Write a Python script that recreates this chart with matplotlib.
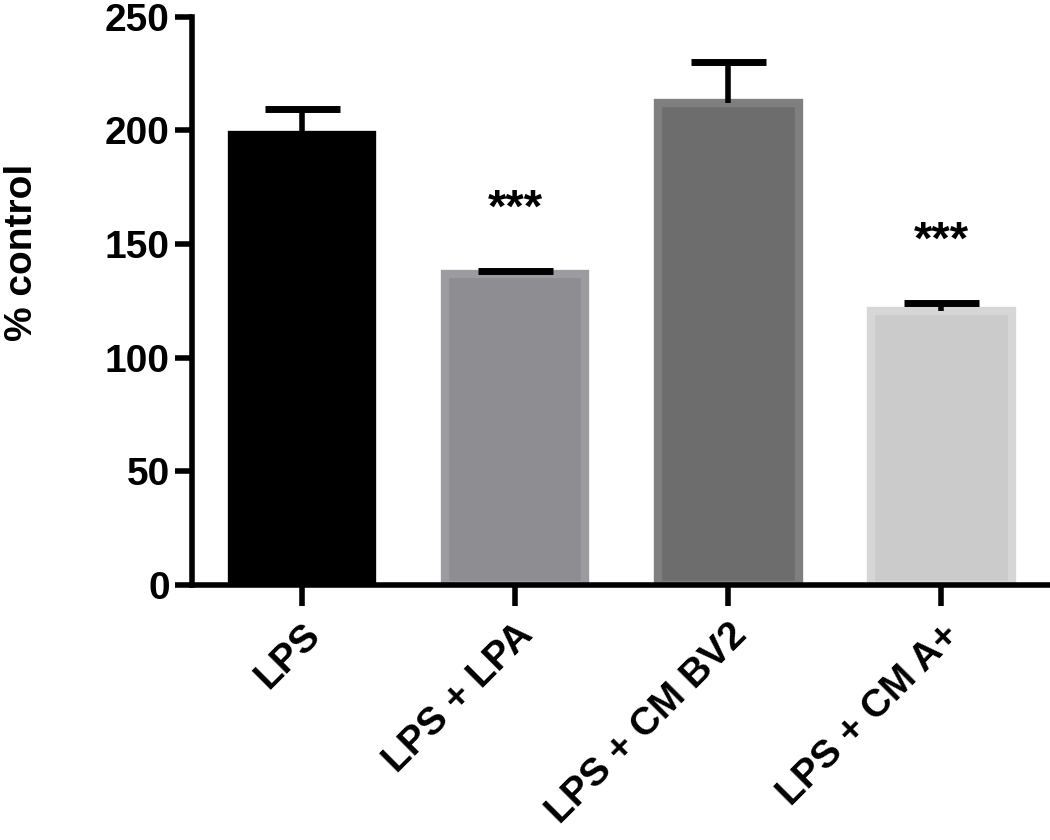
import matplotlib
matplotlib.use("Agg")
import matplotlib.pyplot as plt
import numpy as np

# data
groups = ["LPS", "LPS + LPA", "LPS + CM BV2", "LPS + CM A+"]
means = [198, 137, 212, 120.5]
sem = [11.5, 1, 18, 3.5]
stars = ["", "***", "", "***"]
fills = ["#000000", "#8e8e92", "#6d6d6d", "#cbcbcb"]
edges = ["#000000", "#9c9ca0", "#7f7f7f", "#d6d6d6"]

plt.rcParams['font.family'] = ['Liberation Sans', 'DejaVu Sans']
plt.rcParams['font.weight'] = 'bold'

fig = plt.figure(figsize=(10.5, 8.4), dpi=100)
ax = fig.add_axes([0.183, 0.3036, 0.815, 0.6764])

x = np.arange(len(groups))
ax.bar(x, means, width=0.66, color=fills, edgecolor=edges, linewidth=6, zorder=2)
eb = ax.errorbar(x, means, yerr=[np.zeros(len(sem)), sem], fmt='none', ecolor='black',
                 elinewidth=4, capsize=27, capthick=5, zorder=3)
# only the upper cap is shown, as in the original
for cl in eb[1]:
    if np.allclose(cl.get_ydata(), means):
        cl.set_visible(False)

for xi, m, e, s in zip(x, means, sem, stars):
    if s:
        ax.text(xi, m + e + 27, s, ha='center', va='center', fontsize=34, fontweight='bold')

ax.set_xlim(-0.515, 3.5)
ax.set_ylim(0, 250)
ax.set_yticks([0, 50, 100, 150, 200, 250])
ax.set_xticks(x)
ax.set_xticklabels(groups, rotation=45, ha='right', rotation_mode='anchor')

for sp in ['top', 'right']:
    ax.spines[sp].set_visible(False)
for sp in ['left', 'bottom']:
    ax.spines[sp].set_linewidth(4)

ax.tick_params(axis='y', width=4, length=12, labelsize=28, pad=4)
ax.tick_params(axis='x', width=4, length=15, labelsize=28, pad=8)
ax.set_ylabel("% control", fontsize=28, fontweight='bold')
ax.yaxis.set_label_coords(-0.178, 0.585)

fig.savefig("out.png", dpi=100)
